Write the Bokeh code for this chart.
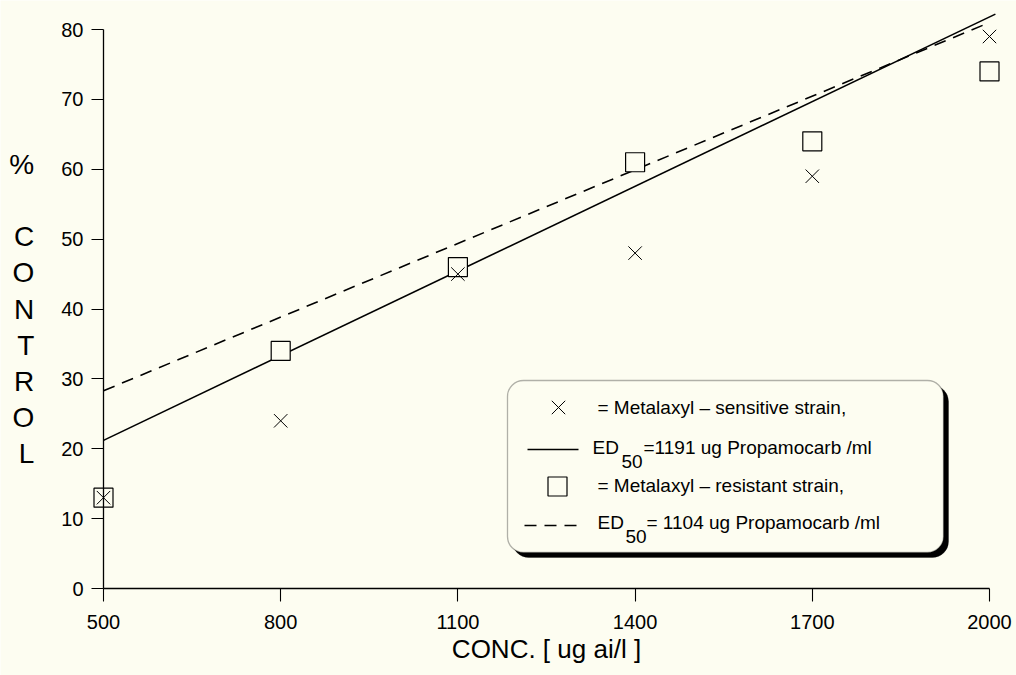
from bokeh.plotting import figure
from bokeh.models import FixedTicker, BoxAnnotation, Range1d
from bokeh.core.properties import value
from bokeh.embed import file_html
from bokeh.resources import INLINE

# ---------------- data ----------------
conc = [500, 800, 1100, 1400, 1700, 2000]
sensitive = [13, 24, 45, 48, 59, 79]      # Metalaxyl-sensitive strain (x markers)
resistant = [13, 34, 46, 61, 64, 74]      # Metalaxyl-resistant strain (squares)
sens_fit_x = [500, 2010]
sens_fit_y = [21.2, 82.2]                 # fitted line, ED50 = 1191
res_fit_x = [500, 2000]
res_fit_y = [28.3, 81.0]                  # fitted line, ED50 = 1104
x_ticks = [500, 800, 1100, 1400, 1700, 2000]
y_ticks = [0, 10, 20, 30, 40, 50, 60, 70, 80]
legend_sens = "= Metalaxyl \u2013 sensitive strain,"
legend_res = "= Metalaxyl \u2013 resistant strain,"
legend_ed_sens = "=1191 ug Propamocarb /ml"
legend_ed_res = "= 1104 ug Propamocarb /ml"
x_title = "CONC. [ ug ai/l ]"
y_title = "%\n\nC\nO\nN\nT\nR\nO\nL"

# ---------------- layout ----------------
FONT = "Liberation Sans"
BG = "#fdfdf1"
W, H = 1016, 675
FL, FR, FT, FB = 0, W, 0, H                # frame covers the whole canvas
X0PX, X1PX = 103, 989                      # px of x=500 and x=2000
Y0PX, Y1PX = 588, 29                       # px of y=0 and y=80
kx = (X1PX - X0PX) / 1500.0
ky = (Y0PX - Y1PX) / 80.0
x_start = 500 - (X0PX - FL) / kx
x_end = 2000 + (FR - X1PX) / kx
y_start = -(FB - Y0PX) / ky
y_end = 80 + (Y1PX - FT) / ky


def dx(px):
    return 500 + (px - X0PX) / kx


def dy(py):
    return (Y0PX - py) / ky


p = figure(width=W, height=H, x_range=Range1d(x_start, x_end), y_range=Range1d(y_start, y_end),
           output_backend="svg", toolbar_location=None, title=None,
           min_border_left=0, min_border_right=0, min_border_top=0, min_border_bottom=0)
p.background_fill_color = BG
p.border_fill_color = BG
p.outline_line_color = None
p.grid.visible = False

for ax in (p.xaxis[0], p.yaxis[0]):
    ax.axis_line_color = "black"
    ax.axis_line_width = 1.3
    ax.major_tick_line_color = "black"
    ax.major_tick_line_width = 1.1
    ax.major_tick_in = 0
    ax.minor_tick_in = 0
    ax.minor_tick_out = 0
    ax.major_label_text_font = FONT
    ax.major_label_text_font_size = "20px"
    ax.major_label_text_color = "black"
    ax.axis_label_text_font = FONT
    ax.axis_label_text_font_style = "normal"
    ax.axis_label_text_color = "black"

xa = p.xaxis[0]
xa.ticker = FixedTicker(ticks=x_ticks)
xa.bounds = (500, 2000)
xa.fixed_location = 0
xa.major_tick_out = 13
xa.major_label_standoff = 13
xa.axis_label = x_title
xa.axis_label_text_font_size = "26px"
xa.axis_label_standoff = 2

ya = p.yaxis[0]
ya.ticker = FixedTicker(ticks=y_ticks)
ya.bounds = (0, 80)
ya.fixed_location = 500
ya.major_tick_out = 12
ya.major_label_standoff = 8
ya.axis_label = y_title
ya.axis_label_orientation = "horizontal"
ya.axis_label_standoff = 24
ya.axis_label_text_font_size = "28px"
ya.axis_label_text_line_height = 1.165

# ---------------- data glyphs ----------------
p.line(sens_fit_x, sens_fit_y, line_color="black", line_width=1.6)
p.line(res_fit_x, res_fit_y, line_color="black", line_width=1.6, line_dash="12 8")
p.scatter(conc, resistant, marker="square", size=19, fill_color=BG, line_color="black", line_width=1.2)
p.scatter(conc, sensitive, marker="x", size=19, line_color="black", line_width=1.0)

# ---------------- legend box ----------------
LB_L, LB_R, LB_T, LB_B = 507, 943, 380, 552
SH = 5
p.add_layout(BoxAnnotation(left=dx(LB_L + SH), right=dx(LB_R + SH), top=dy(LB_T + SH), bottom=dy(LB_B + SH),
                           fill_color="black", fill_alpha=1.0, line_color="black", border_radius=16))
p.add_layout(BoxAnnotation(left=dx(LB_L), right=dx(LB_R), top=dy(LB_T), bottom=dy(LB_B),
                           fill_color=BG, fill_alpha=1.0, line_color="black", line_width=1.3, border_radius=16))

# legend keys
p.scatter([dx(558)], [dy(407)], marker="x", size=19, line_color="black", line_width=1.0, level="overlay")
p.line([dx(527), dx(578)], [dy(449), dy(449)], line_color="black", line_width=1.6, level="overlay")
p.scatter([dx(557)], [dy(486)], marker="square", size=19, fill_color=BG, line_color="black",
          line_width=1.2, level="overlay")
p.line([dx(524), dx(584)], [dy(525), dy(525)], line_color="black", line_width=1.6, line_dash="12 8",
       level="overlay")

# legend labels
TS = value("19px")
p.text([dx(597), dx(597)], [dy(407), dy(485)], text=[legend_sens, legend_res], text_font=value(FONT),
       text_font_size=TS, text_baseline="middle", text_align="left", text_color="black", level="overlay")
p.text([dx(592), dx(597)], [dy(447), dy(522)], text=["ED", "ED"], text_font=value(FONT),
       text_font_size=TS, text_baseline="middle", text_align="left", text_color="black", level="overlay")
p.text([dx(621), dx(625)], [dy(461), dy(536)], text=["50", "50"], text_font=value(FONT),
       text_font_size=TS, text_baseline="middle", text_align="left", text_color="black", level="overlay")
p.text([dx(643), dx(646)], [dy(447), dy(522)], text=[legend_ed_sens, legend_ed_res], text_font=value(FONT),
       text_font_size=TS, text_baseline="middle", text_align="left", text_color="black", level="overlay")

open("out.html", "w").write(file_html(p, INLINE))
